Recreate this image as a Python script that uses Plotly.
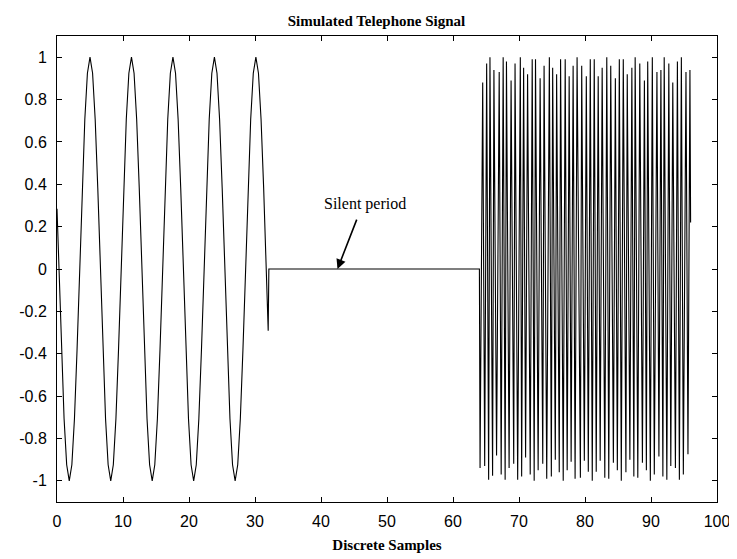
import plotly.graph_objects as go

# ---- Segment 1: low-frequency tone (samples 0..32) ----
tone1_x = [0.0, 0.288, 0.680, 1.073, 1.466, 1.858, 2.251, 2.644, 3.037, 3.429, 3.822, 4.215, 4.607,
           5.000, 5.393, 5.785, 6.178, 6.571, 6.963, 7.356, 7.749, 8.142, 8.534, 8.927, 9.320, 9.712,
           10.105, 10.498, 10.890, 11.283, 11.676, 12.069, 12.461, 12.854, 13.247, 13.639, 14.032,
           14.425, 14.817, 15.210, 15.603, 15.996, 16.388, 16.781, 17.174, 17.566, 17.959, 18.352,
           18.744, 19.137, 19.530, 19.923, 20.315, 20.708, 21.101, 21.493, 21.886, 22.279, 22.671,
           23.064, 23.457, 23.850, 24.242, 24.635, 25.028, 25.420, 25.813, 26.206, 26.598, 26.991,
           27.384, 27.777, 28.169, 28.562, 28.955, 29.347, 29.740, 30.133, 30.525, 30.918, 31.311,
           31.704, 32.0]
tone1_y = [0.284,
           0, -0.383, -0.707, -0.924, -1, -0.924, -0.707, -0.383, 0, 0.383, 0.707, 0.924, 1, 0.924, 0.707, 0.383,
           0, -0.383, -0.707, -0.924, -1, -0.924, -0.707, -0.383, 0, 0.383, 0.707, 0.924, 1, 0.924, 0.707, 0.383,
           0, -0.383, -0.707, -0.924, -1, -0.924, -0.707, -0.383, 0, 0.383, 0.707, 0.924, 1, 0.924, 0.707, 0.383,
           0, -0.383, -0.707, -0.924, -1, -0.924, -0.707, -0.383, 0, 0.383, 0.707, 0.924, 1, 0.924, 0.707, 0.383,
           0, -0.383, -0.707, -0.924, -1, -0.924, -0.707, -0.383, 0, 0.383, 0.707, 0.924, 1, 0.924, 0.707, 0.383,
           0, -0.292]

# ---- Segment 2: silent period ----
silent_x = [32.1, 64.0]
silent_y = [0, 0]

# ---- Segment 3: high-frequency tone (samples 64..96): alternating troughs / peaks ----
tone3_x = [64.1, 64.5, 64.8, 65.1, 65.4, 65.6, 66.0, 66.2, 66.6, 67.0, 67.3, 67.6, 67.9, 68.1,
           68.5, 68.8, 69.2, 69.4, 69.8, 70.2, 70.4, 70.7, 71.0, 71.3, 71.7, 72.0, 72.3, 72.5,
           72.9, 73.2, 73.6, 73.8, 74.2, 74.6, 74.9, 75.1, 75.5, 75.7, 76.1, 76.3, 76.7, 77.0,
           77.3, 77.6, 77.9, 78.2, 78.5, 78.8, 79.3, 79.5, 79.9, 80.2, 80.5, 80.8, 81.1, 81.4,
           81.7, 82.0, 82.3, 82.6, 83.0, 83.3, 83.6, 83.9, 84.3, 84.6, 84.9, 85.2, 85.5, 85.8,
           86.2, 86.4, 86.8, 87.1, 87.4, 87.6, 88.0, 88.3, 88.7, 89.0, 89.3, 89.5, 89.9, 90.2,
           90.5, 90.9, 91.2, 91.5, 91.8, 92.0, 92.4, 92.7, 93.0, 93.3, 93.7, 94.0, 94.3, 94.6,
           94.9, 95.3, 95.6, 95.9, 96.0]
troughs = [-0.94, -0.93, -0.995, -0.976, -0.88, -0.97, -0.995, -0.94, -0.92, -0.995, -0.98, -0.89,
           -0.97, -1.0, -0.95, -0.92, -0.99, -0.98, -0.90, -0.96, -1.0, -0.95, -0.91, -0.99, -0.985,
           -0.905, -0.957, -1.0, -0.957, -0.905, -0.985, -0.99, -0.915, -0.95, -1.0, -0.96, -0.90,
           -0.98, -0.985, -0.915, -0.95, -1.0, -0.97, -0.885, -0.98, -0.995, -0.93, -0.94, -0.995,
           -0.97, -0.875]
peaks = [0.88, 0.97, 1.0, 0.94, 0.93, 1.0, 0.98, 0.89, 0.97, 1.0, 0.95, 0.92, 0.99, 0.99, 0.90,
         0.96, 1.0, 0.95, 0.92, 0.99, 0.99, 0.91, 0.96, 1.0, 0.96, 0.91, 0.99, 0.99, 0.91, 0.95,
         1.0, 0.96, 0.90, 0.99, 0.99, 0.92, 0.95, 1.0, 0.97, 0.89, 0.98, 1.0, 0.93, 0.94, 1.0,
         0.97, 0.88, 0.98, 1.0, 0.93, 0.94]
tone3_end = 0.22

tone3_y = []
for t, p in zip(troughs, peaks):
    tone3_y += [t, p]
tone3_y.append(tone3_end)

signal_x = tone1_x + silent_x + tone3_x
signal_y = tone1_y + silent_y + tone3_y

x_ticks = [0, 10, 20, 30, 40, 50, 60, 70, 80, 90, 100]
y_ticks = [1, 0.8, 0.6, 0.4, 0.2, 0, -0.2, -0.4, -0.6, -0.8, -1]
y_labels = ["1", "0.8", "0.6", "0.4", "0.2", "0", "-0.2", "-0.4", "-0.6", "-0.8", "-1"]

fig = go.Figure()
fig.add_trace(go.Scatter(x=signal_x, y=signal_y, mode="lines",
                         line=dict(color="black", width=1.1), showlegend=False))

fig.add_annotation(x=42.5, y=0, ax=45.5, ay=0.24, xref="x", yref="y", axref="x", ayref="y",
                   text="", showarrow=True, arrowhead=2, arrowsize=1.2, arrowwidth=1.6,
                   arrowcolor="black")
fig.add_annotation(x=46.7, y=0.305, xref="x", yref="y", text="Silent period", showarrow=False,
                   font=dict(family="Liberation Serif", size=16, color="black"))

axis_common = dict(showline=True, linecolor="black", linewidth=1, mirror="allticks",
                   ticks="inside", ticklen=5, tickcolor="black", showgrid=False, zeroline=False,
                   tickfont=dict(family="Liberation Sans", size=16, color="black"))

fig.update_xaxes(range=[0, 100], tickvals=x_ticks, ticktext=[str(v) for v in x_ticks],
                 ticklabelstandoff=5,
                 title=dict(text="<b>Discrete Samples</b>", standoff=10,
                            font=dict(family="Liberation Serif", size=15, color="black")),
                 **axis_common)
fig.update_yaxes(range=[-1.1, 1.1], tickvals=y_ticks, ticktext=y_labels, ticklabelstandoff=6,
                 **axis_common)

fig.update_layout(
    width=737, height=559,
    margin=dict(l=49, r=28, t=28, b=65),
    paper_bgcolor="white", plot_bgcolor="white",
    title=dict(text="<b>Simulated Telephone Signal</b>", x=0.5, xanchor="center",
               y=0.978, yanchor="middle",
               font=dict(family="Liberation Serif", size=15, color="black")),
)

fig.write_html("out.html")
